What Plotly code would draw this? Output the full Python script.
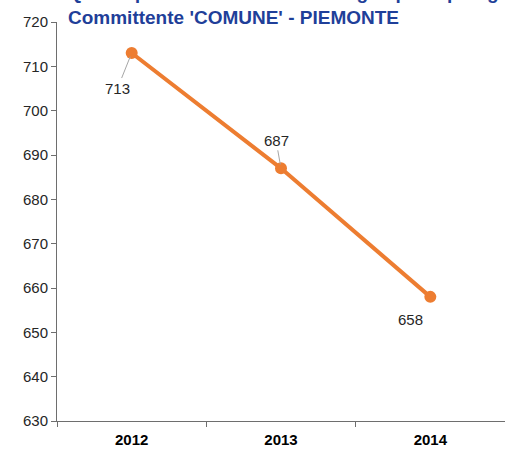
import plotly.graph_objects as go

years = ["2012", "2013", "2014"]
values = [713, 687, 658]
y_ticks = [630, 640, 650, 660, 670, 680, 690, 700, 710, 720]
title_lines = ["Qtà Acquista nel triennio - Dettaglio per Tipologia,",
               "Committente 'COMUNE' - PIEMONTE"]

xpos = list(range(len(years)))
orange = "#ED7D31"
axis_grey = "#6E6E6E"
font_family = "Liberation Sans, Arial, sans-serif"

fig = go.Figure()
fig.add_trace(go.Scatter(
    x=xpos, y=values, mode="lines+markers",
    line=dict(color=orange, width=4),
    marker=dict(color=orange, size=12),
    hoverinfo="skip", showlegend=False,
))

# data labels
label_offsets = [dict(ax=-14, ay=35, arrow=True),
                 dict(ax=-5, ay=-28, arrow=True),
                 dict(ax=-20, ay=23, arrow=False)]
for xi, v, off in zip(xpos, values, label_offsets):
    if off["arrow"]:
        fig.add_annotation(x=xi, y=v, text=str(v), showarrow=True,
                           ax=off["ax"], ay=off["ay"], arrowhead=0,
                           arrowwidth=1, arrowcolor="#A6A6A6", standoff=4,
                           font=dict(family=font_family, size=15, color="#262626"))
    else:
        fig.add_annotation(x=xi, y=v, text=str(v), showarrow=False,
                           xshift=off["ax"], yshift=-off["ay"],
                           font=dict(family=font_family, size=15, color="#262626"))

# title (top line clipped by the page edge, as in the reference)
fig.add_annotation(xref="paper", yref="paper", x=(66 - 57) / 448, y=(421 - 30) / 399,
                   xanchor="left", yanchor="bottom", align="left", showarrow=False,
                   text="<b>" + "<br>".join(title_lines) + "</b>",
                   font=dict(family=font_family, size=19, color="#1F3F99"))

fig.update_layout(
    width=505, height=452,
    margin=dict(l=57, r=0, t=22, b=31, autoexpand=False),
    paper_bgcolor="white", plot_bgcolor="white",
    font=dict(family=font_family),
    xaxis=dict(
        range=[-0.5, 2.5], tickvals=xpos, ticktext=years, automargin=False,
        ticks="", showgrid=False, zeroline=False, ticklabelstandoff=5,
        showline=True, linecolor=axis_grey, linewidth=1,
        tickfont=dict(family=font_family, size=15, color="#000000", weight="bold"),
        minor=dict(tickvals=[-0.5, 0.5, 1.5, 2.5], ticks="outside", ticklen=5,
                   tickcolor=axis_grey, showgrid=False),
    ),
    yaxis=dict(
        range=[630, 720], tickvals=y_ticks, ticks="outside", ticklen=5, automargin=False,
        tickcolor=axis_grey, showgrid=False, zeroline=False,
        showline=True, linecolor=axis_grey, linewidth=1,
        tickfont=dict(family=font_family, size=15, color="#262626"),
    ),
)

post = ("document.body.style.margin='0';"
        "document.body.style.overflow='hidden';"
        "Plotly.relayout(document.getElementById('{plot_id}'), {width: 505, height: 452});")
fig.write_html("out.html", post_script=post,
               config={"responsive": False, "displayModeBar": False})
